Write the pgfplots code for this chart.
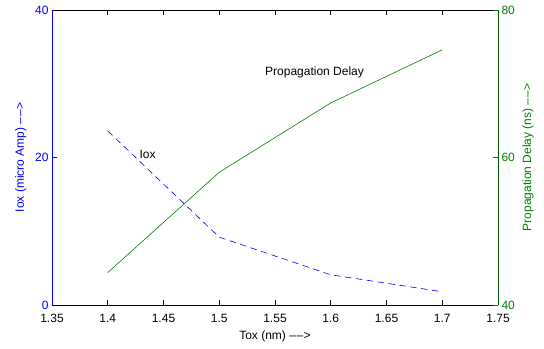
\documentclass[border=0pt]{standalone}
\usepackage{fontspec}
\setmainfont{Liberation Sans}
\usepackage{pgfplots}
\pgfplotsset{compat=1.18}
\definecolor{mblue}{rgb}{0,0,1}
\definecolor{mgreen}{rgb}{0,0.5,0}
\newcommand{\fs}{\fontsize{12}{14}\selectfont}
\newcommand{\arr}{\textendash\kern0.8pt\textendash\kern0.3pt>}
\begin{document}
\begin{tikzpicture}
\begin{axis}[
  scale only axis, width=446pt, height=295pt,
  xmin=1.35, xmax=1.75,
  tick label style={font=\fs},
  axis line style={line width=0.8pt},
  separate axis lines,
  x axis line style={black},
  y axis line style={mblue},
  xtick pos=both, ytick pos=left,
  tick align=inside,
  major tick length=5pt,
  ymin=0, ymax=40,
  xtick={1.35,1.4,1.45,1.5,1.55,1.6,1.65,1.7,1.75},
  xticklabels={1.35,1.4,1.45,1.5,1.55,1.6,1.65,1.7,1.75},
  xticklabel shift=6pt,
  xtick style={black, line width=0.8pt},
  ytick={0,20,40}, yticklabels={0,20,40},
  ytick style={mblue, line width=0.8pt},
  yticklabel style={text=mblue},
  every axis x label/.style={at={(axis description cs:0.5,0)}, anchor=base, yshift=-34.3pt, font=\fs},
  every axis y label/.style={at={(axis description cs:-0.0628,0.5)}, rotate=90, anchor=base, font=\fs, text=mblue},
  xlabel={Tox (nm) \arr},
  ylabel={Iox (micro Amp) \arr},
  clip=false,
]
\addplot[mblue, line width=0.6pt, dash pattern=on 6.5pt off 4.5pt] coordinates {
  (1.4,23.6) (1.5,9.2) (1.6,4.1) (1.7,1.8)
};
\node[anchor=base west, inner sep=0, font=\fs] at (axis cs:1.4283,19.9) {Iox};
\node[anchor=base west, inner sep=0, font=\fs] at (axis cs:1.541,31.1) {Propagation Delay};
\coordinate (sw) at (rel axis cs:0,0);
\coordinate (ne) at (rel axis cs:1,1);
\end{axis}
\begin{axis}[
  scale only axis, width=446pt, height=295pt,
  xmin=1.35, xmax=1.75,
  tick label style={font=\fs},
  axis line style={line width=0.8pt},
  tick align=inside,
  major tick length=5pt,
  axis x line=none, axis y line*=right,
  ymin=40, ymax=80,
  ytick={40,60,80}, yticklabels={40,60,80},
  y axis line style={mgreen!70!black},
  ytick style={mgreen, line width=0.8pt},
  yticklabel style={text=mgreen},
  every axis y label/.style={at={(axis description cs:1.0744,0.5)}, rotate=90, anchor=base, font=\fs, text=mgreen},
  ylabel={Propagation Delay (ns) \arr},
]
\addplot[mgreen, line width=0.6pt] coordinates {
  (1.4,44.4) (1.5,58.0) (1.6,67.4) (1.7,74.6)
};
\end{axis}
\pgfresetboundingbox
\path ([shift={(-52pt,-43pt)}]sw) rectangle ([shift={(46pt,10pt)}]ne);
\end{tikzpicture}
\end{document}
